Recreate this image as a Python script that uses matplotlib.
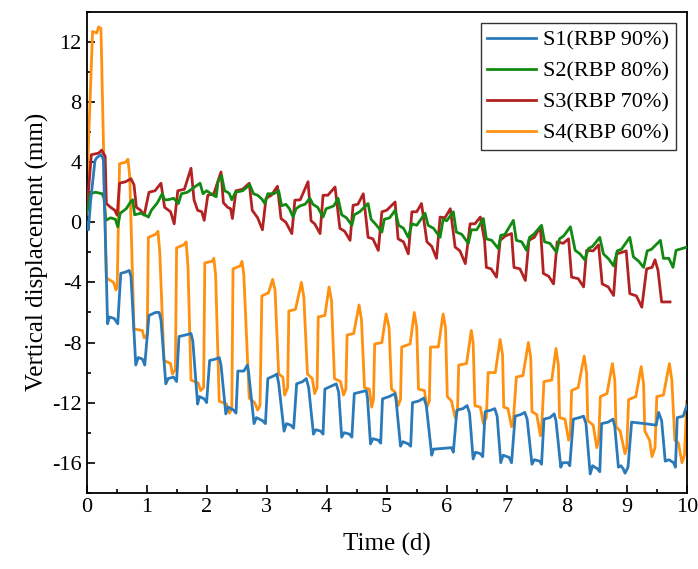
import matplotlib
matplotlib.use('Agg')
import matplotlib.pyplot as plt
from matplotlib.ticker import MultipleLocator

plt.rcParams['font.family'] = ['Liberation Serif', 'DejaVu Serif']
plt.rcParams['axes.unicode_minus'] = False

# S1 (RBP 90%)
s1_t = [0.00, 0.03, 0.07, 0.14, 0.17, 0.24, 0.28, 0.35, 0.38, 0.46, 0.52, 0.57, 0.66, 0.71, 0.74,
        0.82, 0.86, 0.93, 0.97, 1.04, 1.15, 1.21, 1.24, 1.32, 1.36, 1.45, 1.50, 1.54, 1.65, 1.74, 1.77,
        1.85, 1.88, 1.96, 2.00, 2.05, 2.15, 2.21, 2.24, 2.32, 2.36, 2.45, 2.49, 2.52, 2.62, 2.68, 2.70,
        2.79, 2.83, 2.93, 2.98, 3.02, 3.13, 3.17, 3.20, 3.29, 3.33, 3.40, 3.45, 3.50, 3.60, 3.66, 3.70,
        3.78, 3.82, 3.90, 3.94, 3.97, 4.08, 4.16, 4.20, 4.25, 4.29, 4.38, 4.42, 4.46, 4.56, 4.66, 4.68,
        4.73, 4.77, 4.86, 4.90, 4.93, 5.04, 5.14, 5.16, 5.23, 5.27, 5.36, 5.40, 5.43, 5.53, 5.62, 5.66,
        5.75, 5.78, 6.08, 6.11, 6.17, 6.27, 6.34, 6.38, 6.44, 6.48, 6.56, 6.60, 6.64, 6.74, 6.80, 6.84,
        6.90, 6.94, 7.04, 7.08, 7.14, 7.23, 7.30, 7.34, 7.42, 7.46, 7.55, 7.58, 7.62, 7.72, 7.79, 7.82,
        7.90, 7.93, 8.02, 8.05, 8.11, 8.21, 8.28, 8.32, 8.39, 8.43, 8.51, 8.55, 8.58, 8.69, 8.77, 8.80,
        8.86, 8.90, 8.94, 8.97, 9.02, 9.08, 9.30, 9.49, 9.53, 9.58, 9.64, 9.70, 9.78, 9.81, 9.84, 9.94, 10.0]
s1_v = [0.0, -0.5, 1.5, 4.1, 4.3, 4.5, 4.2, -6.75, -6.3, -6.4, -6.75, -3.4, -3.3, -3.2, -3.6,
        -9.5, -9.0, -9.1, -9.5, -6.2, -6.0, -6.0, -6.5, -10.75, -10.4, -10.3, -10.6, -7.6, -7.5, -7.4, -7.9,
        -12.1, -11.6, -11.75, -12.0, -9.2, -9.1, -9.0, -9.5, -12.75, -12.3, -12.5, -12.7, -9.9, -9.9, -9.5, -10.0,
        -13.4, -13.0, -13.2, -13.4, -10.4, -10.2, -10.1, -10.7, -13.9, -13.4, -13.5, -13.7, -10.75, -10.6, -10.4, -11.0,
        -14.1, -13.8, -13.9, -14.1, -11.1, -10.9, -10.75, -11.3, -14.3, -14.0, -14.1, -14.3, -11.4, -11.3, -11.2, -11.7,
        -14.75, -14.4, -14.5, -14.7, -11.75, -11.6, -11.4, -12.0, -14.9, -14.6, -14.75, -14.9, -12.0, -11.9, -11.7, -12.2,
        -15.5, -15.1, -15.0, -15.3, -12.5, -12.4, -12.2, -12.7, -15.75, -15.3, -15.4, -15.6, -12.6, -12.5, -12.4, -12.9,
        -16.0, -15.5, -15.65, -16.0, -12.9, -12.8, -12.65, -13.1, -16.1, -15.8, -15.9, -16.1, -13.1, -13.0, -12.75, -13.2,
        -16.3, -16.0, -16.0, -16.2, -13.1, -13.0, -12.9, -13.4, -16.75, -16.2, -16.4, -16.6, -13.4, -13.3, -13.1, -13.6,
        -16.3, -16.2, -16.4, -16.7, -16.3, -13.3, -13.4, -13.5, -12.65, -13.2, -15.9, -15.8, -16.0, -16.3, -13.0, -12.9, -12.2]

# S2 (RBP 80%)
s2_t = [0.00, 0.03, 0.06, 0.15, 0.26, 0.29, 0.32, 0.40, 0.48, 0.52, 0.56, 0.66, 0.74, 0.77, 0.80,
        0.90, 0.97, 1.03, 1.08, 1.18, 1.26, 1.30, 1.36, 1.45, 1.53, 1.58, 1.68, 1.80, 1.89, 1.94, 2.00,
        2.11, 2.16, 2.19, 2.25, 2.30, 2.35, 2.38, 2.42, 2.48, 2.60, 2.72, 2.78, 2.85, 2.92, 2.97, 3.02,
        3.12, 3.20, 3.25, 3.32, 3.38, 3.44, 3.49, 3.56, 3.64, 3.72, 3.77, 3.85, 3.94, 3.99, 4.06, 4.12,
        4.19, 4.25, 4.33, 4.42, 4.46, 4.55, 4.69, 4.74, 4.81, 4.92, 4.96, 5.05, 5.14, 5.20, 5.28, 5.36,
        5.42, 5.50, 5.64, 5.69, 5.78, 5.89, 5.94, 6.00, 6.11, 6.16, 6.25, 6.36, 6.41, 6.50, 6.61, 6.66,
        6.75, 6.86, 6.90, 6.97, 7.11, 7.16, 7.25, 7.33, 7.38, 7.45, 7.58, 7.63, 7.72, 7.83, 7.88, 7.95,
        8.06, 8.14, 8.22, 8.30, 8.36, 8.43, 8.55, 8.61, 8.70, 8.78, 8.84, 8.91, 9.05, 9.11, 9.20, 9.28,
        9.34, 9.41, 9.56, 9.61, 9.70, 9.77, 9.82, 9.92, 10.0]
s2_v = [0.6, 1.0, 1.9, 2.0, 1.9, 1.6, 0.13, 0.3, 0.2, -0.3, 0.6, 0.9, 1.4, 1.5, 0.5,
        0.6, 0.5, 0.35, 0.8, 1.3, 1.9, 1.5, 1.5, 1.6, 1.25, 1.9, 2.0, 2.35, 2.6, 1.9, 2.1,
        1.8, 1.7, 2.7, 3.1, 2.1, 2.0, 1.9, 1.5, 2.0, 2.1, 2.5, 1.9, 1.8, 1.55, 1.25, 1.9,
        1.9, 2.1, 1.1, 1.2, 0.9, 0.35, 0.9, 1.1, 1.2, 1.6, 1.2, 1.0, 0.35, 0.9, 1.0, 1.1,
        1.6, 0.5, 0.3, -0.2, 0.5, 0.7, 1.25, 0.2, -0.1, -0.65, 0.2, 0.3, 0.8, -0.2, -0.4, -1.0,
        -0.1, -0.2, 0.6, -0.2, -0.4, -1.0, 0.2, 0.1, 0.7, -0.65, -0.8, -1.4, -0.5, -0.5, 0.25, -1.1,
        -1.2, -1.75, -0.87, -0.8, 0.13, -1.2, -1.3, -1.87, -1.0, -0.8, -0.2, -1.3, -1.4, -2.0, -1.1, -0.9,
        -0.3, -1.87, -2.1, -2.5, -1.75, -1.6, -1.0, -2.1, -2.45, -2.9, -1.9, -1.8, -1.0, -2.3, -2.6, -3.0,
        -1.9, -1.8, -1.2, -2.4, -2.4, -3.0, -1.87, -1.75, -1.65]

# S3 (RBP 70%)
s3_t = [0.00, 0.04, 0.08, 0.20, 0.25, 0.31, 0.33, 0.40, 0.47, 0.51, 0.55, 0.65, 0.74, 0.79, 0.83,
        0.90, 0.96, 1.04, 1.14, 1.24, 1.30, 1.40, 1.46, 1.52, 1.63, 1.74, 1.79, 1.85, 1.92, 1.96, 2.02,
        2.12, 2.24, 2.28, 2.35, 2.40, 2.43, 2.49, 2.60, 2.71, 2.76, 2.85, 2.93, 2.99, 3.08, 3.18, 3.24,
        3.32, 3.42, 3.47, 3.56, 3.69, 3.74, 3.80, 3.89, 3.94, 4.02, 4.14, 4.22, 4.30, 4.39, 4.44, 4.52,
        4.61, 4.69, 4.77, 4.86, 4.92, 5.00, 5.14, 5.19, 5.28, 5.36, 5.42, 5.50, 5.58, 5.67, 5.75, 5.83,
        5.89, 5.97, 6.06, 6.14, 6.22, 6.31, 6.39, 6.47, 6.56, 6.63, 6.66, 6.74, 6.83, 6.89, 6.98, 7.08,
        7.12, 7.22, 7.31, 7.37, 7.46, 7.56, 7.61, 7.70, 7.78, 7.84, 7.94, 8.03, 8.08, 8.19, 8.28, 8.33,
        8.44, 8.53, 8.59, 8.69, 8.78, 8.83, 8.92, 8.99, 9.05, 9.16, 9.25, 9.33, 9.42, 9.47, 9.52, 9.58, 9.72]
s3_v = [0.5, 2.5, 4.5, 4.6, 4.8, 4.4, 1.25, 1.0, 0.8, 0.47, 2.6, 2.7, 2.9, 2.5, 1.0,
        0.8, 0.47, 2.0, 2.1, 2.6, 1.0, 0.7, -0.1, 2.1, 2.2, 3.6, 1.5, 0.8, 0.7, 0.13, 1.8,
        1.9, 3.35, 1.3, 1.0, 0.9, 0.25, 2.1, 2.2, 2.6, 0.8, 0.3, -0.5, 1.6, 1.8, 2.4, 0.25,
        0.0, -0.75, 1.47, 1.5, 2.7, 0.1, -0.1, -0.75, 1.8, 1.8, 2.35, -0.4, -0.6, -1.2, 1.13, 1.2,
        1.9, -1.0, -1.1, -1.87, 0.7, 0.8, 1.35, -1.1, -1.3, -2.1, 0.7, 0.7, 1.25, -1.3, -1.6, -2.4,
        0.35, 0.3, 0.9, -1.65, -1.9, -2.75, -0.1, -0.1, 0.35, -1.2, -3.0, -3.1, -3.65, -1.2, -0.9, -0.75,
        -3.0, -3.1, -3.87, -1.2, -1.0, -0.3, -3.4, -3.6, -4.1, -1.3, -1.4, -1.1, -3.65, -3.75, -4.3, -1.87,
        -1.9, -1.5, -4.1, -4.3, -4.87, -2.1, -2.0, -1.9, -4.75, -4.9, -5.65, -3.1, -3.0, -2.5, -3.2, -5.3, -5.3]

# S4 (RBP 60%)
s4_t = [0.00, 0.03, 0.10, 0.17, 0.20, 0.24, 0.33, 0.45, 0.49, 0.51, 0.55, 0.65, 0.69, 0.72, 0.79,
        0.93, 0.96, 1.01, 1.03, 1.15, 1.19, 1.22, 1.29, 1.40, 1.43, 1.48, 1.50, 1.62, 1.66, 1.69, 1.74,
        1.86, 1.90, 1.95, 1.97, 2.09, 2.12, 2.15, 2.21, 2.33, 2.38, 2.42, 2.44, 2.56, 2.59, 2.62, 2.71,
        2.80, 2.85, 2.89, 2.92, 3.03, 3.10, 3.14, 3.20, 3.27, 3.30, 3.35, 3.37, 3.48, 3.58, 3.62, 3.68,
        3.76, 3.80, 3.84, 3.86, 3.97, 4.04, 4.08, 4.13, 4.23, 4.28, 4.32, 4.34, 4.45, 4.54, 4.58, 4.63,
        4.71, 4.75, 4.78, 4.80, 4.92, 4.99, 5.04, 5.08, 5.14, 5.19, 5.23, 5.25, 5.39, 5.46, 5.50, 5.53,
        5.63, 5.67, 5.71, 5.73, 5.86, 5.94, 5.98, 6.01, 6.08, 6.14, 6.18, 6.20, 6.33, 6.41, 6.44, 6.47,
        6.56, 6.61, 6.66, 6.69, 6.81, 6.89, 6.93, 6.95, 7.02, 7.08, 7.11, 7.16, 7.27, 7.36, 7.40, 7.42,
        7.50, 7.56, 7.58, 7.62, 7.75, 7.82, 7.86, 7.88, 7.97, 8.03, 8.06, 8.08, 8.19, 8.29, 8.33, 8.35,
        8.44, 8.50, 8.53, 8.56, 8.67, 8.76, 8.80, 8.82, 8.89, 8.97, 9.00, 9.03, 9.15, 9.24, 9.28, 9.30,
        9.38, 9.42, 9.47, 9.50, 9.61, 9.71, 9.75, 9.80, 9.86, 9.92, 9.96, 10.0]
s4_v = [0.6, 5.0, 12.7, 12.6, 13.0, 12.9, -3.7, -4.0, -4.5, -4.3, 3.9, 4.0, 4.2, 3.0, -7.1,
        -7.2, -7.7, -7.5, -1.0, -0.8, -0.6, -2.0, -9.2, -9.4, -10.1, -9.8, -1.7, -1.5, -1.3, -3.0, -10.5,
        -10.7, -11.2, -11.0, -2.7, -2.6, -2.4, -3.5, -11.9, -12.1, -12.7, -12.4, -3.1, -2.9, -2.6, -3.5, -11.7,
        -12.0, -12.5, -12.2, -4.9, -4.7, -3.8, -4.5, -10.1, -10.3, -11.5, -11.0, -5.9, -5.8, -4.0, -5.0, -10.1,
        -10.4, -11.4, -11.0, -6.3, -6.2, -4.3, -5.2, -10.4, -10.6, -11.5, -11.1, -7.5, -7.4, -5.5, -6.5, -11.0,
        -11.1, -12.3, -11.8, -8.1, -8.0, -6.1, -7.0, -11.1, -11.3, -12.2, -11.8, -8.3, -8.1, -6.0, -7.0, -11.1,
        -11.2, -12.3, -11.9, -8.3, -8.3, -6.1, -7.0, -11.6, -11.9, -13.0, -12.5, -9.5, -9.4, -7.2, -8.0, -12.2,
        -12.3, -13.4, -13.0, -10.0, -10.0, -7.8, -8.8, -12.3, -12.4, -13.6, -13.2, -10.3, -10.2, -8.0, -9.0, -12.6,
        -12.8, -14.2, -13.8, -10.6, -10.5, -8.4, -9.5, -13.0, -13.1, -14.5, -14.0, -11.2, -11.0, -8.9, -10.0, -13.2,
        -13.5, -15.0, -14.5, -11.6, -11.4, -9.4, -10.5, -13.6, -13.9, -15.4, -15.0, -11.8, -11.6, -9.6, -10.8, -13.9,
        -14.5, -15.6, -15.0, -11.6, -11.5, -9.4, -10.5, -14.5, -14.7, -16.0, -15.5, -11.9]

labels = ['S1(RBP 90%)', 'S2(RBP 80%)', 'S3(RBP 70%)', 'S4(RBP 60%)']
colors = ['#2a7ab9', '#128a12', '#b22222', '#ff9010']

fig = plt.figure(figsize=(6.98, 5.69), dpi=100)
ax = fig.add_axes([0.124, 0.134, 0.86, 0.845])

# orange first so it sits underneath, like the original
ax.plot(s4_t, s4_v, color=colors[3], lw=2.0, label=labels[3], zorder=2)
ax.plot(s3_t, s3_v, color=colors[2], lw=2.0, label=labels[2], zorder=3)
ax.plot(s2_t, s2_v, color=colors[1], lw=2.0, label=labels[1], zorder=4)
ax.plot(s1_t, s1_v, color=colors[0], lw=2.0, label=labels[0], zorder=5)

ax.set_xlim(0, 10)
ax.set_ylim(-18, 14)
ax.xaxis.set_major_locator(MultipleLocator(1))
ax.xaxis.set_minor_locator(MultipleLocator(0.5))
ax.yaxis.set_minor_locator(MultipleLocator(2))
ax.set_yticks([-16, -12, -8, -4, 0, 4, 8, 12])
ax.tick_params(which='both', direction='in', top=False, right=False, labelsize=16, width=1.2)
ax.tick_params(which='major', length=6)
ax.tick_params(which='minor', length=3)
for sp in ax.spines.values():
    sp.set_linewidth(1.3)

ax.set_xlabel('Time (d)', fontsize=18, labelpad=12)
ax.set_ylabel('Vertical displacement (mm)', fontsize=18, labelpad=2)

h, l = ax.get_legend_handles_labels()
order = [3, 2, 1, 0]
leg = ax.legend([h[i] for i in order], [l[i] for i in order], loc='upper right',
                fontsize=16, frameon=True, fancybox=False, edgecolor='black',
                handlelength=2.2, handletextpad=0.3, borderpad=0.3, labelspacing=0.47,
                borderaxespad=0.5)
leg.get_frame().set_linewidth(1.0)

fig.savefig('out.png', dpi=100)
